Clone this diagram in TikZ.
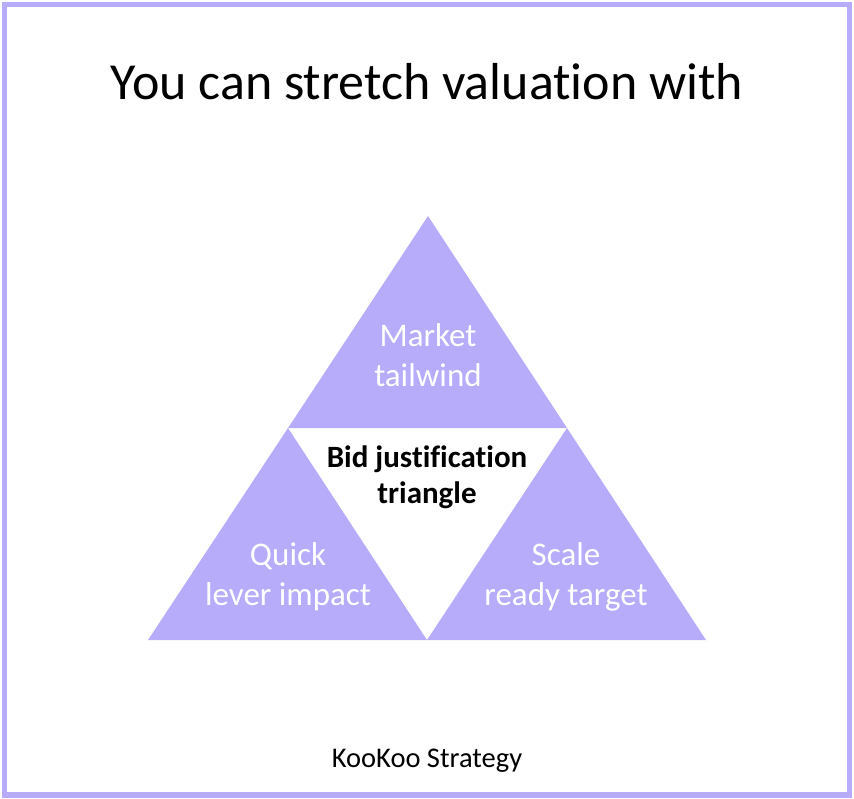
\documentclass[tikz,border=0pt]{standalone}
\usepackage{fontspec}
\setmainfont{Carlito}[Ligatures=NoCommon]
\usetikzlibrary{calc}
\definecolor{lavender}{HTML}{B6ACFA}
\begin{document}
\begin{tikzpicture}[x=1pt, y=-1pt,
    part/.style={fill=lavender},
    label/.style={text=white, align=center, font=\fontsize{33}{40}\selectfont},
    core/.style={text=black, align=center, font=\bfseries\fontsize{31}{36}\selectfont}]
    \useasboundingbox (0,0) rectangle (854,799);
    \draw [lavender, line width=5.5pt] (4.5,4.5) rectangle (849.5,795);
    \node (title) at (427,82) {\fontsize{52}{60}\selectfont You can stretch valuation with};

    % corners of the big triangle
    \coordinate (apex) at (428,216);
    \coordinate (left) at (148,640);
    \coordinate (right) at (706,640);
    \coordinate (midl) at ($(apex)!0.5!(left)$);
    \coordinate (midr) at ($(apex)!0.5!(right)$);
    \coordinate (midb) at ($(left)!0.5!(right)$);

    \fill [part] (apex) -- (midl) -- (midr) -- cycle;
    \fill [part] (midl) -- (left) -- (midb) -- cycle;
    \fill [part] (midr) -- (midb) -- (right) -- cycle;

    \node [label] (market) at (428,355) {Market\\tailwind};
    \node [label] (quick) at (288,577) {Quick\\lever impact};
    \node [label] (scale) at (566,577) {Scale\\ready target};
    \node [core] (bid) at (427,477) {Bid justification\\triangle};

    \node (brand) at (427,761) {\fontsize{28.5}{30}\selectfont KooKoo Strategy};
\end{tikzpicture}
\end{document}
